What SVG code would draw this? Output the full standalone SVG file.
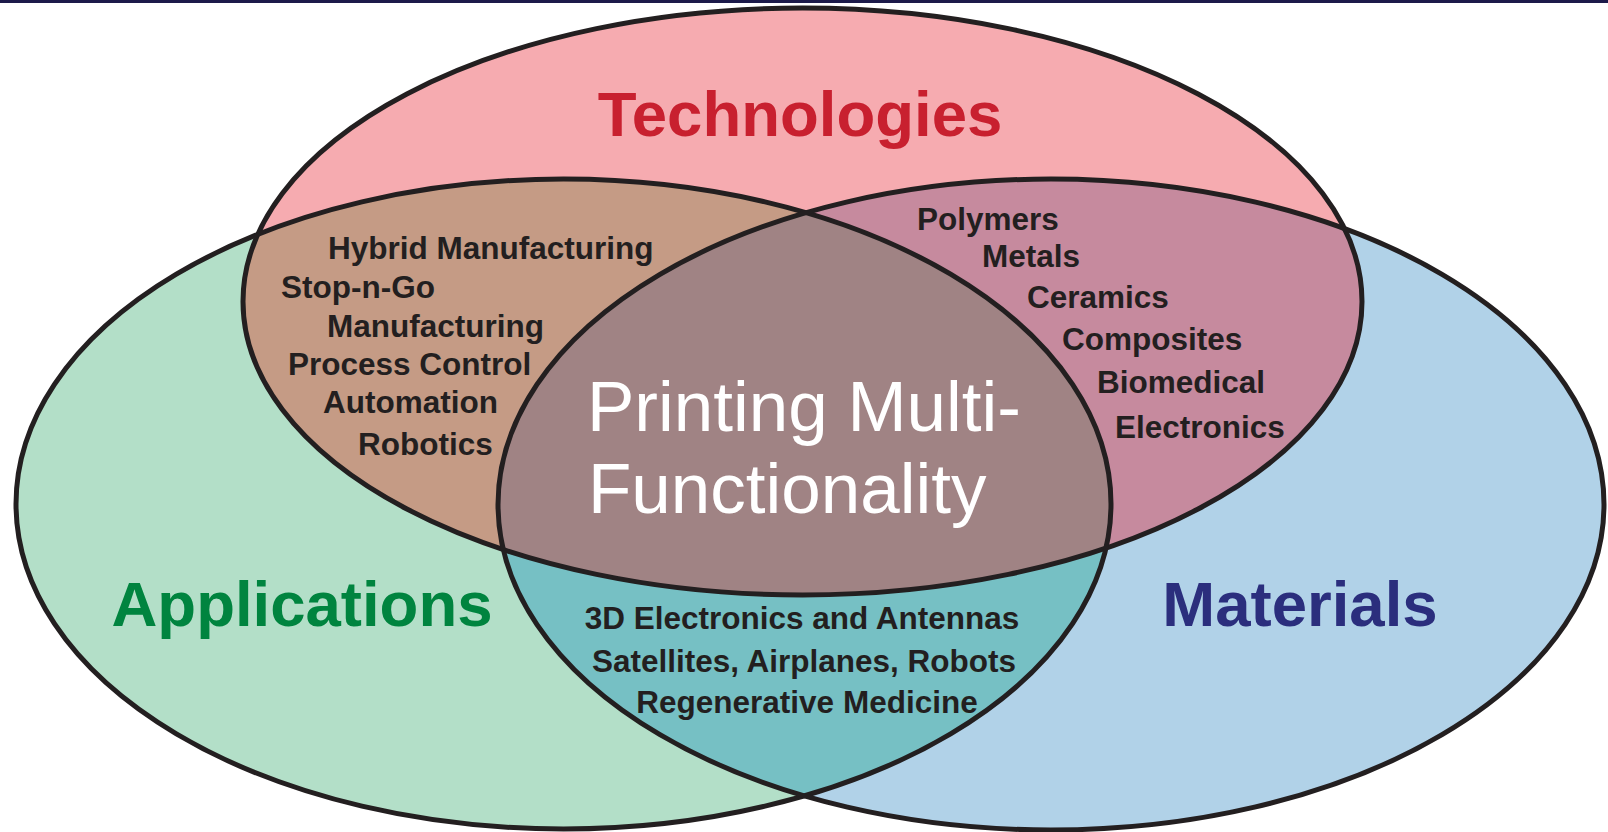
<svg xmlns="http://www.w3.org/2000/svg" width="1608" height="832" viewBox="0 0 1608 832">
<style>
.outline{fill:none;stroke:#231f20;stroke-width:5}
.title{font-family:"Liberation Sans",Arial,sans-serif;font-weight:bold;font-size:63.5px}
.item{font-family:"Liberation Sans",Arial,sans-serif;font-weight:bold;font-size:31.5px;fill:#231f20}
.center{font-family:"Liberation Sans",Arial,sans-serif;font-size:71px;fill:#ffffff}
</style>
<defs>
<ellipse id="eT" cx="802.5" cy="301.5" rx="559.5" ry="293.5"/>
<ellipse id="eA" cx="563.5" cy="504" rx="547.5" ry="325"/>
<ellipse id="eM" cx="1051" cy="504.5" rx="553" ry="325.5"/>
<clipPath id="cT"><use href="#eT"/></clipPath>
<clipPath id="cA"><use href="#eA"/></clipPath>
</defs>
<rect x="0" y="0" width="1608" height="832" fill="#ffffff"/>
<rect x="0" y="0" width="1608" height="3" fill="#1c1a4a"/>
<g id="fills">
<use href="#eA" fill="#b3dfc8"/>
<use href="#eM" fill="#b1d2e8"/>
<use href="#eT" fill="#f6abb0"/>
<use href="#eA" fill="#c59b85" clip-path="url(#cT)"/>
<use href="#eM" fill="#c68a9e" clip-path="url(#cT)"/>
<use href="#eM" fill="#76c0c4" clip-path="url(#cA)"/>
<g clip-path="url(#cA)"><use href="#eM" fill="#a08384" clip-path="url(#cT)"/></g>
</g>
<g id="outlines">
<use href="#eT" class="outline"/>
<use href="#eA" class="outline"/>
<use href="#eM" class="outline"/>
</g>
<g id="technologies">
<text class="title" x="800" y="136" text-anchor="middle" fill="#c8202f">Technologies</text>
</g>
<g id="applications">
<text class="title" x="302" y="626" text-anchor="middle" fill="#00843f">Applications</text>
</g>
<g id="materials">
<text class="title" x="1300" y="626" text-anchor="middle" fill="#2b2e7d">Materials</text>
</g>
<g id="tech-applications">
<text class="item" x="328" y="259">Hybrid Manufacturing</text>
<text class="item" x="281" y="298">Stop-n-Go</text>
<text class="item" x="327" y="337">Manufacturing</text>
<text class="item" x="288" y="375">Process Control</text>
<text class="item" x="323" y="413">Automation</text>
<text class="item" x="358" y="455">Robotics</text>
</g>
<g id="tech-materials">
<text class="item" x="917" y="230">Polymers</text>
<text class="item" x="982" y="267">Metals</text>
<text class="item" x="1027" y="308">Ceramics</text>
<text class="item" x="1062" y="350">Composites</text>
<text class="item" x="1097" y="393">Biomedical</text>
<text class="item" x="1115" y="438">Electronics</text>
</g>
<g id="applications-materials">
<text class="item" x="802" y="629" text-anchor="middle">3D Electronics and Antennas</text>
<text class="item" x="804" y="672" text-anchor="middle">Satellites, Airplanes, Robots</text>
<text class="item" x="807" y="713" text-anchor="middle">Regenerative Medicine</text>
</g>
<g id="center">
<text class="center" x="587" y="431">Printing Multi-</text>
<text class="center" x="588" y="513">Functionality</text>
</g>
</svg>
